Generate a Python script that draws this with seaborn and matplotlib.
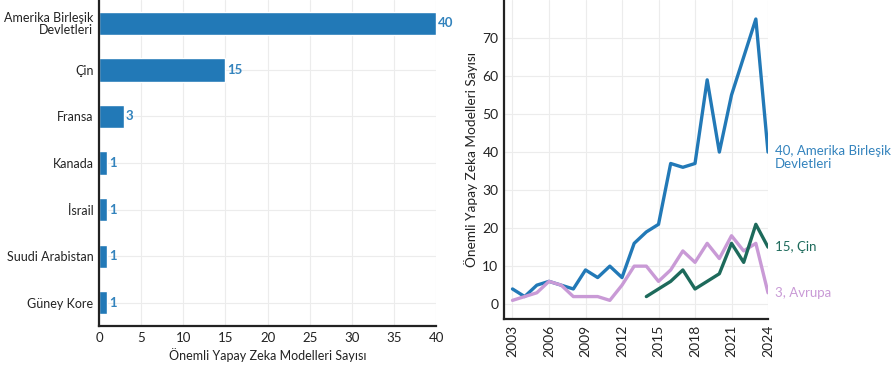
import matplotlib
matplotlib.use("Agg")
import matplotlib.pyplot as plt
import matplotlib.transforms as mtransforms
import seaborn as sns
import pandas as pd

# Notable AI models by country, latest year
countries = ["Amerika Birleşik\nDevletleri", "Çin", "Fransa", "Kanada", "İsrail",
             "Suudi Arabistan", "Güney Kore"]
model_counts = [40, 15, 3, 1, 1, 1, 1]

# Notable AI models per year by region
years = list(range(2003, 2025))
us_counts = [4, 2, 5, 6, 5, 4, 9, 7, 10, 7, 16, 19, 21, 37, 36, 37, 59, 40, 55, 65, 75, 40]
europe_counts = [1, 2, 3, 6, 5, 2, 2, 2, 1, 5, 10, 10, 6, 9, 14, 11, 16, 12, 18, 14, 16, 3]
china_years = list(range(2014, 2025))
china_counts = [2, 4, 6, 9, 4, 6, 8, 16, 11, 21, 15]

BLUE = "#2279b7"
GREEN = "#1d6a5b"
PINK = "#c99ad6"
BLUE_TXT = "#3383bd"
INK = "#222222"
FS = 9

sns.set_theme(style="whitegrid")
plt.rcParams["font.family"] = ["Lato", "DejaVu Sans"]
plt.rcParams["axes.edgecolor"] = INK
plt.rcParams["grid.color"] = "#ececec"
plt.rcParams["grid.linewidth"] = 0.8

fig = plt.figure(figsize=(8.92, 3.69), dpi=100)

# ---- left: horizontal bars ----
ax1 = fig.add_axes([0.111, 0.1165, 0.378, 0.8835])
bar_df = pd.DataFrame({"country": countries, "count": model_counts})
sns.barplot(data=bar_df, y="country", x="count", color=BLUE, saturation=1,
            width=0.5, ax=ax1, orient="h")
for i, v in enumerate(model_counts):
    ax1.text(v + 0.2, i, str(v), color=BLUE_TXT, va="center", ha="left",
             fontsize=FS + 0.5, fontweight="bold", clip_on=False)
ax1.set_xlim(0, 40)
ax1.set_ylim(6.5, -0.5)
ax1.set_xticks(range(0, 41, 5))
ax1.set_xlabel("Önemli Yapay Zeka Modelleri Sayısı", fontsize=FS, color=INK, labelpad=3)
ax1.set_ylabel("")
ax1.tick_params(axis="both", labelsize=FS, colors=INK, length=0, pad=4)
ax1.tick_params(axis="x", labelsize=FS + 0.5)
for lbl in ax1.get_yticklabels():
    lbl.set_horizontalalignment("right")
    lbl.set_multialignment("right")
    lbl.set_linespacing(1.0)
ax1.grid(axis="y", visible=True)
for s in ["top", "right"]:
    ax1.spines[s].set_visible(False)
for s in ["left", "bottom"]:
    ax1.spines[s].set_linewidth(1.6)

# ---- right: lines over time ----
ax2 = fig.add_axes([0.565, 0.1355, 0.296, 0.8645])
sns.lineplot(x=years, y=us_counts, color=BLUE, linewidth=2.4, ax=ax2)
sns.lineplot(x=years, y=europe_counts, color=PINK, linewidth=2.4, ax=ax2)
sns.lineplot(x=china_years, y=china_counts, color=GREEN, linewidth=2.4, ax=ax2)
ax2.set_xlim(2002.3, 2024)
ax2.set_ylim(-3.9, 80)
ax2.set_xticks(range(2003, 2025, 3))
ax2.set_xticklabels([str(y) for y in range(2003, 2025, 3)], rotation=90)
ax2.set_yticks(range(0, 71, 10))
ax2.set_ylabel("Önemli Yapay Zeka Modelleri Sayısı", fontsize=FS + 0.8, color=INK, labelpad=3)
ax2.tick_params(axis="both", labelsize=FS + 1, colors=INK, length=0, pad=4)
for s in ["top", "right"]:
    ax2.spines[s].set_visible(False)
for s in ["left", "bottom"]:
    ax2.spines[s].set_linewidth(1.6)

end_x = 2024.55
up = mtransforms.offset_copy(ax2.transData, fig=fig, x=0, y=7, units="dots")
ax2.text(end_x, us_counts[-1], f"{us_counts[-1]}, Amerika Birleşik\nDevletleri",
         color=BLUE_TXT, fontsize=FS + 0.5, va="top", ha="left", clip_on=False,
         linespacing=1.05, transform=up)
ax2.text(end_x, china_counts[-1], f"{china_counts[-1]}, Çin", color=GREEN,
         fontsize=FS + 0.5, va="center", ha="left", clip_on=False)
ax2.text(end_x, europe_counts[-1], f"{europe_counts[-1]}, Avrupa", color=PINK,
         fontsize=FS + 0.5, va="center", ha="left", clip_on=False)

fig.savefig("out.png", dpi=100)
